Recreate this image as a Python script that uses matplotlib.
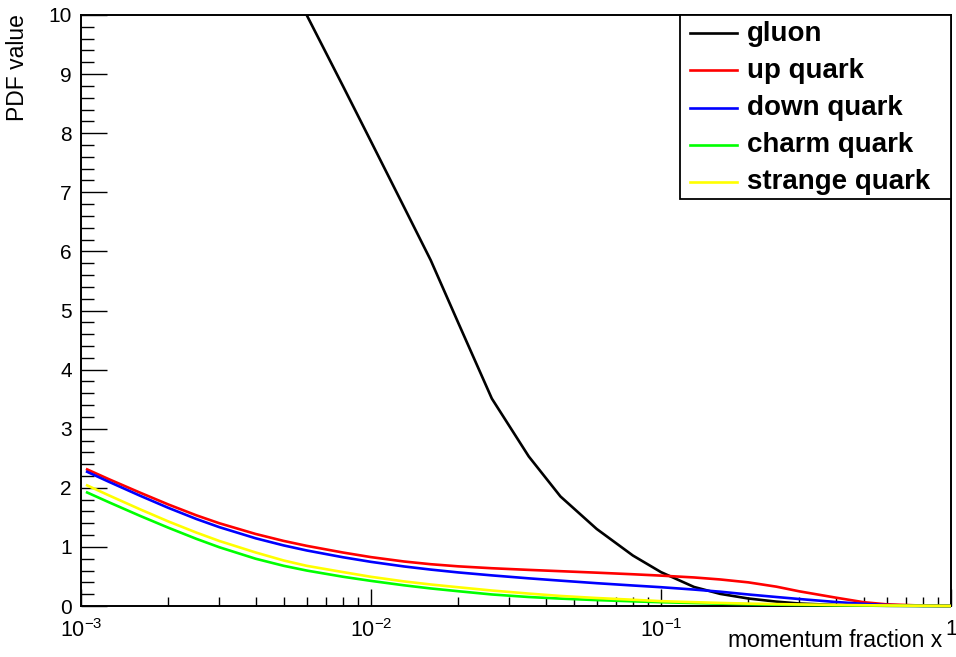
import numpy as np
import matplotlib
matplotlib.use("Agg")
import matplotlib.pyplot as plt
from matplotlib.patches import Rectangle
from matplotlib.lines import Line2D
from matplotlib.ticker import FixedLocator, LogLocator, NullFormatter, MultipleLocator

# ---------------- data ----------------
x_vals = [0.00104, 0.00125, 0.0016, 0.002, 0.0025, 0.003, 0.004, 0.005, 0.006, 0.008,
          0.01, 0.013, 0.01607, 0.02, 0.0261, 0.035, 0.045, 0.06, 0.08, 0.1,
          0.13, 0.16, 0.2, 0.25, 0.3, 0.4, 0.5, 0.6, 0.8, 1.0]

gluon = [17.4, 16.65, 15.6, 14.65, 13.7, 12.95, 11.7, 10.77, 10.0, 8.80,
         7.86, 6.75, 5.85, 4.79, 3.51, 2.53, 1.854, 1.304, 0.854, 0.573,
         0.322, 0.205, 0.127, 0.074, 0.042, 0.017, 0.007, 0.003, 0.0005, 0.0]

up_quark = [2.32, 2.144, 1.917, 1.718, 1.534, 1.400, 1.219, 1.101, 1.018, 0.905,
            0.827, 0.753, 0.707, 0.671, 0.639, 0.611, 0.589, 0.564, 0.537, 0.514,
            0.483, 0.449, 0.40, 0.327, 0.248, 0.142, 0.064, 0.028, 0.007, 0.0]

down_quark = [2.28, 2.10, 1.865, 1.661, 1.472, 1.334, 1.146, 1.025, 0.94, 0.825,
              0.747, 0.669, 0.616, 0.568, 0.518, 0.468, 0.429, 0.386, 0.347, 0.318,
              0.278, 0.242, 0.195, 0.152, 0.118, 0.068, 0.036, 0.016, 0.003, 0.0]

charm_quark = [1.93, 1.754, 1.524, 1.325, 1.136, 0.994, 0.80, 0.68, 0.60, 0.495,
               0.425, 0.35, 0.297, 0.25, 0.195, 0.152, 0.125, 0.10, 0.079, 0.064,
               0.05, 0.04, 0.03, 0.023, 0.018, 0.012, 0.008, 0.005, 0.002, 0.0]

strange_quark = [2.05, 1.87, 1.635, 1.431, 1.242, 1.10, 0.906, 0.77, 0.68, 0.574,
                 0.494, 0.416, 0.364, 0.317, 0.262, 0.21, 0.17, 0.135, 0.106, 0.082,
                 0.065, 0.052, 0.04, 0.032, 0.026, 0.018, 0.013, 0.009, 0.004, 0.0]

series_labels = ["gluon", "up quark", "down quark", "charm quark", "strange quark"]
series_values = [gluon, up_quark, down_quark, charm_quark, strange_quark]
series_colors = ["#000000", "#ff0000", "#0000ff", "#00ff00", "#ffff00"]

x_tick_values = [1e-3, 1e-2, 1e-1, 1.0]
x_tick_labels = [r"$10^{-3}$", r"$10^{-2}$", r"$10^{-1}$", "1"]
y_tick_values = list(range(0, 11))

# ---------------- style ----------------
plt.rcParams["font.family"] = ["Liberation Sans", "DejaVu Sans"]
plt.rcParams["mathtext.fontset"] = "custom"
plt.rcParams["mathtext.rm"] = "Liberation Sans"
plt.rcParams["mathtext.it"] = "Liberation Sans:italic"
plt.rcParams["mathtext.bf"] = "Liberation Sans:bold"
plt.rcParams["mathtext.default"] = "rm"

W, H = 956, 657
fig = plt.figure(figsize=(W / 100, H / 100), dpi=100)
L, R, T, B = 81, 951, 15, 606
ax = fig.add_axes([L / W, 1 - B / H, (R - L) / W, (B - T) / H])

ax.set_xscale("log")
ax.set_xlim(1e-3, 1.0)
ax.set_ylim(0, 10)

clip = Rectangle((0, -0.01), 1, 1.01, transform=ax.transAxes, visible=False)
ax.add_patch(clip)

for vals, col in zip(series_values, series_colors):
    ln, = ax.plot(x_vals, vals, color=col, lw=1.9, zorder=3,
                  solid_joinstyle="round", solid_capstyle="butt")
    ln.set_clip_path(clip)

for s in ax.spines.values():
    s.set_linewidth(1.4)
    s.set_zorder(2)

ax.xaxis.set_major_locator(FixedLocator(x_tick_values))
ax.set_xticklabels(x_tick_labels)
ax.xaxis.set_minor_locator(LogLocator(base=10, subs=np.arange(2, 10)))
ax.xaxis.set_minor_formatter(NullFormatter())
ax.yaxis.set_major_locator(FixedLocator(y_tick_values))
ax.set_yticklabels([str(v) for v in y_tick_values])
ax.yaxis.set_minor_locator(MultipleLocator(0.2))

ax.tick_params(axis="x", which="major", direction="in", length=12.2, width=1.0,
               labelsize=15.5, pad=9.5, top=False)
ax.tick_params(axis="x", which="minor", direction="in", length=6.5, width=1.0, top=False)
ax.tick_params(axis="y", which="major", direction="in", length=18.7, width=1.0,
               labelsize=15, pad=6.5, right=False)
ax.tick_params(axis="y", which="minor", direction="in", length=9.4, width=1.0, right=False)

# axis titles (ROOT style placement)
fig.text(942 / W, 1 - 647 / H, "momentum fraction x", ha="right", va="baseline", fontsize=16.5)
fig.text(18 / W, 1 - 14 / H, "PDF value", ha="center", va="top", rotation=90, fontsize=16.5)

# ---------------- legend (ROOT-like box) ----------------
def ax_x(px):
    return (px - L) / (R - L)

def ax_y(py):
    return (B - py) / (B - T)

box = Rectangle((ax_x(680), ax_y(199)), ax_x(951) - ax_x(680), ax_y(15) - ax_y(199),
                transform=ax.transAxes, facecolor="white", edgecolor="black",
                lw=1.3, zorder=5, clip_on=False)
ax.add_patch(box)
row_px = [33.3, 70.4, 107.5, 144.6, 181.7]
for lab, col, py in zip(series_labels, series_colors, row_px):
    ax.add_line(Line2D([ax_x(690), ax_x(737)], [ax_y(py), ax_y(py)], color=col, lw=1.9,
                       transform=ax.transAxes, zorder=6, clip_on=False))
    ax.text(ax_x(747), ax_y(py + 7.5), lab, transform=ax.transAxes, fontsize=20,
            fontweight="bold", ha="left", va="baseline", zorder=6)

fig.savefig("out.png", dpi=100)
